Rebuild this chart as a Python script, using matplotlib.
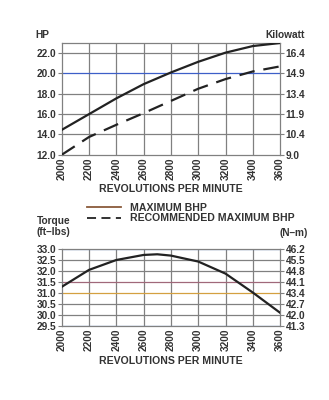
import matplotlib
matplotlib.use('Agg')
import matplotlib.pyplot as plt
from matplotlib.lines import Line2D

plt.rcParams['font.family'] = ['Liberation Sans', 'DejaVu Sans']
plt.rcParams['font.weight'] = 'bold'

# data
rpm = [2000, 2200, 2400, 2600, 2800, 3000, 3200, 3400, 3600]
max_bhp = [14.45, 16.0, 17.55, 18.95, 20.1, 21.15, 22.05, 22.7, 23.0]
rec_bhp = [12.0, 13.75, 14.95, 16.1, 17.3, 18.5, 19.45, 20.2, 20.7]
torque_rpm = [2000, 2200, 2400, 2600, 2700, 2800, 3000, 3200, 3400, 3600]
torque = [31.28, 32.05, 32.5, 32.73, 32.76, 32.7, 32.43, 31.88, 31.02, 30.1]

hp_ticks = [12.0, 14.0, 16.0, 18.0, 20.0, 22.0]
kw_labels = ['9.0', '10.4', '11.9', '13.4', '14.9', '16.4']
tq_ticks = [29.5, 30.0, 30.5, 31.0, 31.5, 32.0, 32.5, 33.0]
nm_labels = ['41.3', '42.0', '42.7', '43.4', '44.1', '44.8', '45.5', '46.2']

TXT = '#333333'
GRID = '#808080'
FS = 7.3

fig = plt.figure(figsize=(3.29, 4.0), dpi=100)
fig.patch.set_facecolor('white')


def style_axes(ax):
    ax.set_xlim(2000, 3600)
    ax.set_xticks(rpm)
    ax.set_xticklabels([str(r) for r in rpm], rotation=90, fontsize=FS,
                       color=TXT, fontweight='bold')
    ax.tick_params(axis='x', length=0, pad=2)
    ax.tick_params(axis='y', length=3, width=0.8, color=GRID, labelsize=FS, labelcolor=TXT, pad=1)
    for s in ax.spines.values():
        s.set_color(GRID)
        s.set_linewidth(0.9)
    for r in rpm[1:-1]:
        ax.axvline(r, color=GRID, lw=0.9, zorder=1)
    ax.set_xlabel('REVOLUTIONS PER MINUTE', fontsize=FS + 0.3, color=TXT,
                  fontweight='bold', labelpad=3)


def right_axis(ax, ticks, labels):
    axr = ax.twinx()
    axr.set_ylim(ax.get_ylim())
    axr.set_yticks(ticks)
    axr.set_yticklabels(labels, fontweight='bold')
    axr.tick_params(axis='y', length=3, width=0.8, color=GRID, labelsize=FS, labelcolor=TXT, pad=1)
    for s in axr.spines.values():
        s.set_visible(False)
    return axr


# top: horsepower
ax1 = fig.add_axes([0.1875, 0.613, 0.664, 0.2795])
style_axes(ax1)
ax1.set_ylim(12, 23)
ax1.set_yticks(hp_ticks)
ax1.set_yticklabels([f'{v:.1f}' for v in hp_ticks], fontweight='bold')
for v in hp_ticks[1:]:
    ax1.axhline(v, color='#3d5fc8' if v == 20.0 else GRID, lw=0.9, zorder=1)
ax1.plot(rpm, max_bhp, color='#222222', lw=1.6, zorder=3)
ax1.plot(rpm, rec_bhp, color='#222222', lw=1.6, dashes=(7, 4), zorder=3)
right_axis(ax1, hp_ticks, kw_labels)
fig.text(0.128, 0.913, 'HP', fontsize=FS, color=TXT, ha='center', va='center')
fig.text(0.925, 0.913, 'Kilowatt', fontsize=FS, color=TXT, ha='right', va='center')

# legend
fig.legend(handles=[Line2D([], [], color='#8a5a3a', lw=1.3),
                    Line2D([], [], color='#222222', lw=1.3, dashes=(5, 3))],
           labels=['MAXIMUM BHP', 'RECOMMENDED MAXIMUM BHP'],
           loc='center left', bbox_to_anchor=(0.235, 0.467), frameon=False,
           fontsize=FS + 0.3, handlelength=3.2, handletextpad=0.9,
           labelspacing=0.05, labelcolor=TXT)

# bottom: torque
ax2 = fig.add_axes([0.1875, 0.185, 0.664, 0.1925])
style_axes(ax2)
ax2.set_ylim(29.5, 33.0)
ax2.set_yticks(tq_ticks)
ax2.set_yticklabels([f'{v:.1f}' for v in tq_ticks], fontweight='bold')
tq_colors = {33.0: '#5a8ad0', 31.5: '#a0687a', 31.0: '#d4a040', 29.5: '#5a8ad0'}
for v in tq_ticks:
    ax2.axhline(v, color=tq_colors.get(v, GRID), lw=0.9, zorder=1)
ax2.plot(torque_rpm, torque, color='#222222', lw=1.6, zorder=3)
right_axis(ax2, tq_ticks, nm_labels)
fig.text(0.112, 0.433, 'Torque\n(ft\u2013lbs)', fontsize=FS, color=TXT, ha='left', va='center',
         linespacing=1.1)
fig.text(0.935, 0.417, '(N\u2013m)', fontsize=FS, color=TXT, ha='right', va='center')

fig.savefig('out.png', dpi=100)
